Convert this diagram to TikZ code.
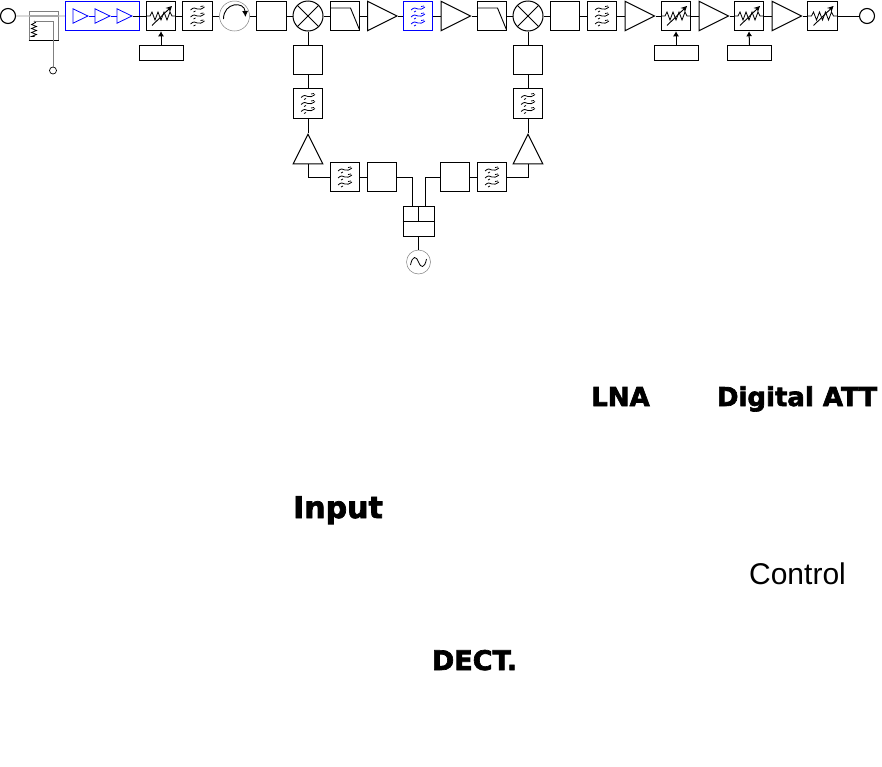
\documentclass[tikz,border=0pt]{standalone}
\usepackage{fontspec}
\usepackage{tikz}
\usetikzlibrary{arrows.meta,shapes.geometric}
\newfontfamily\heavyfont[BoldFeatures={FakeBold=2.5}]{DejaVu Sans}
\newfontfamily\plainfont{Liberation Sans}
\tikzset{
  wire/.style={line width=1pt},
  blockbox/.style={draw,wire,minimum size=29.5pt,inner sep=0pt},
  ctlbox/.style={draw,wire,minimum width=44pt,minimum height=15pt,inner sep=0pt},
  att/.style={blockbox,path picture={
    \draw[line width=0.8pt,shift={(path picture bounding box.center)}] (-15,0)--(-11,0)--(-9,-4)--(-6,4)--(-3,-4)--(0,4)--(3,-4)--(6,4)--(9,-4)--(11,0)--(15,0);
    \draw[line width=0.9pt,-{Stealth[length=6pt,width=6pt]},shift={(path picture bounding box.center)}] (-9,9.5)--(11,-10);}},
  bpf/.style={blockbox,#1,path picture={
    \foreach \yy in {-7,0,7}{
      \draw[line width=0.8pt,#1,shift={(path picture bounding box.center)}] (-7,\yy+1) .. controls (-4,\yy-2) and (-2,\yy-1) .. (0,\yy) .. controls (2,\yy+1) and (4,\yy) .. (7,\yy-2);
      \draw[line width=0.8pt,#1,shift={(path picture bounding box.center)}] (-4,\yy+3) -- (-2,\yy+2) (3,\yy-2.5) -- (6,\yy-3);}}},
  bpf/.default=black,
  lpf/.style={blockbox,path picture={
    \draw[line width=0.9pt,shift={(path picture bounding box.center)}] (-15,-8)--(5.5,-8)--(15,15);}},
  mixer/.style={draw,wire,circle,minimum size=30pt,inner sep=0pt,path picture={
    \draw[line width=0.8pt,shift={(path picture bounding box.center)}] (-11,-11)--(11,11) (-11,11)--(11,-11);}},
  circul/.style={draw=gray,line width=0.5pt,circle,minimum size=30pt,inner sep=0pt,path picture={
    \draw[draw=black,line width=0.9pt,-{Latex[length=6pt,width=6pt]},shift={(path picture bounding box.center)}] (-11,3) .. controls (-11,-14) and (10,-15) .. (11,1);}},
  source/.style={draw=gray,line width=0.5pt,circle,minimum size=24pt,inner sep=0pt,path picture={
    \draw[draw=black,line width=0.8pt,shift={(path picture bounding box.center)}] (-8,3) .. controls (-6,-7) and (-2,-6) .. (0,0) .. controls (2,6) and (6,7) .. (8,-3);}},
  port/.style={draw,line width=1.1pt,circle,minimum size=15pt,inner sep=0pt},
  amp/.style={draw,wire,isosceles triangle,isosceles triangle stretches,minimum width=29.5pt,minimum height=29.5pt,inner sep=0pt,anchor=west},
  ampup/.style={amp,shape border rotate=90,anchor=apex},
  ampsmall/.style={draw=blue,line width=0.8pt,isosceles triangle,isosceles triangle stretches,minimum width=14.5pt,minimum height=15pt,inner sep=0pt,anchor=west},
  termbox/.style={draw=gray,line width=1pt,minimum size=29pt,inner sep=0pt,path picture={
    \draw[draw=black,line width=0.8pt,shift={(path picture bounding box.center)}] (-9.5,-4.5)--(-8,-3)--(-12,-1)--(-7,1)--(-12,3)--(-7,5)--(-12,7)--(-7,9)--(-12,11)--(-9,11);}},
  bigbold/.style={inner sep=0pt,anchor=base,font=\heavyfont\bfseries\fontsize{#1pt}{#1pt}\selectfont}
}
\begin{document}
\begin{tikzpicture}[x=1pt,y=-1pt]
\useasboundingbox (0,0) rectangle (882,766);
\node[port] (portin) at (8,16) {};
\node[termbox] (term) at (43.5,25.5) {};
\node[draw=blue,line width=1pt,minimum width=74pt,minimum height=28.5pt,inner sep=0pt] (ampbox) at (102,16) {};
\node[ampsmall] (ampa) at (72.5,16) {};
\node[ampsmall] (ampb) at (94.5,16) {};
\node[ampsmall] (ampc) at (116.5,16) {};
\node[att] (atta) at (161,16) {};
\node[bpf] (bpfa) at (197.5,16) {};
\node[circul] (circ) at (234.5,16) {};
\node[blockbox] (boxa) at (271.5,16) {};
\node[mixer] (mixa) at (308,16) {};
\node[lpf] (lpfa) at (345,16) {};
\node[amp] (ampd) at (367,16) {};
\node[bpf=blue] (bpfb) at (418,16) {};
\node[amp] (ampe) at (440.5,16) {};
\node[lpf] (lpfb) at (492,16) {};
\node[mixer] (mixb) at (528,16) {};
\node[blockbox] (boxb) at (565,16) {};
\node[bpf] (bpfc) at (602,16) {};
\node[amp] (ampf) at (624.5,16) {};
\node[att] (attb) at (676,16) {};
\node[amp] (ampg) at (698.5,16) {};
\node[att] (attc) at (749,16) {};
\node[amp] (amph) at (771.5,16) {};
\node[att] (attd) at (822.5,16) {};
\node[port] (portout) at (867,16) {};
\node[ctlbox] (ctla) at (161,53) {};
\node[ctlbox] (ctlb) at (676,53) {};
\node[ctlbox] (ctlc) at (749.5,53) {};
\node[draw,line width=0.7pt,circle,minimum size=7pt,inner sep=0pt] (portc) at (53,70.5) {};
\node[blockbox] (boxc) at (308,60) {};
\node[bpf] (bpfd) at (308,103.5) {};
\node[ampup] (ampi) at (308,133) {};
\node[bpf] (bpfe) at (345,177) {};
\node[blockbox] (boxd) at (382,177) {};
\node[blockbox] (boxe) at (528,60) {};
\node[bpf] (bpff) at (528,103.5) {};
\node[ampup] (ampj) at (528,133) {};
\node[bpf] (bpfg) at (492,177) {};
\node[blockbox] (boxf) at (455,177) {};
\node[draw,wire,minimum width=31pt,minimum height=30pt,inner sep=0pt] (split) at (418.5,221) {};
\node[source] (osc) at (418.5,262) {};
\coordinate (splitl) at (412,206);
\coordinate (splitr) at (425,206);
\coordinate (termin) at (34,21);
\draw[gray!30,line width=2pt] (portin) -- (ampbox);
\draw[gray!70,line width=1.5pt] (term.west |- portin) -- (term.east |- portin);
\draw[wire] (term.south west) -- (term.south east);
\draw[gray,line width=1pt] (termin) -| (portc);
\draw[blue,line width=0.8pt] (ampa.east) -- (ampb.west) (ampb.east) -- (ampc.west);
\draw[wire] (ampc.east) -- (atta);
\draw[wire] (atta) -- (bpfa);
\draw[wire] (bpfa) -- (circ);
\draw[wire] (circ) -- (boxa);
\draw[wire] (boxa) -- (mixa);
\draw[wire] (mixa) -- (lpfa);
\draw[wire] (lpfa) -- (ampd.west);
\draw[wire] (ampd.east) -- (bpfb);
\draw[wire] (bpfb) -- (ampe.west);
\draw[wire] (ampe.east) -- (lpfb);
\draw[wire] (lpfb) -- (mixb);
\draw[wire] (mixb) -- (boxb);
\draw[wire] (boxb) -- (bpfc);
\draw[wire] (bpfc) -- (ampf.west);
\draw[wire] (ampf.east) -- (attb);
\draw[wire] (attb) -- (ampg.west);
\draw[wire] (ampg.east) -- (attc);
\draw[wire] (attc) -- (amph.west);
\draw[wire] (amph.east) -- (attd);
\draw[wire] (attd) -- (portout);
\draw[wire,-{Latex[length=5pt,width=6pt]}] (ctla.north) -- (atta.south);
\draw[wire,-{Latex[length=5pt,width=6pt]}] (ctlb.north) -- (attb.south);
\draw[wire,-{Latex[length=5pt,width=6pt]}] (ctlc.north) -- (attc.south);
\draw[wire] (mixa) -- (boxc);
\draw[wire] (boxc) -- (bpfd);
\draw[wire] (bpfd) -- (ampi.apex);
\draw[wire] (ampi.south) |- (bpfe);
\draw[wire] (bpfe) -- (boxd);
\draw[wire] (boxd) -| (splitl);
\draw[wire] (mixb) -- (boxe);
\draw[wire] (boxe) -- (bpff);
\draw[wire] (bpff) -- (ampj.apex);
\draw[wire] (ampj.south) |- (bpfg);
\draw[wire] (bpfg) -- (boxf);
\draw[wire] (boxf) -| (splitr);
\draw[wire] (split.west) -- (split.east);
\draw[wire] (split.center) -- (split.north);
\draw[wire] (split) -- (osc);
\node[bigbold=26] (lblna) at (620.5,406) {LNA};
\node[bigbold=26] (lbatt) at (797,406) {Digital ATT};
\node[bigbold=30] (lbinput) at (338,518) {Input};
\node[bigbold=27] (lbdect) at (474.5,670) {DECT.};
\node[inner sep=0pt,anchor=base,font=\plainfont\fontsize{30pt}{30pt}\selectfont] (lbcontrol) at (797.5,584) {Control};
\end{tikzpicture}
\end{document}
